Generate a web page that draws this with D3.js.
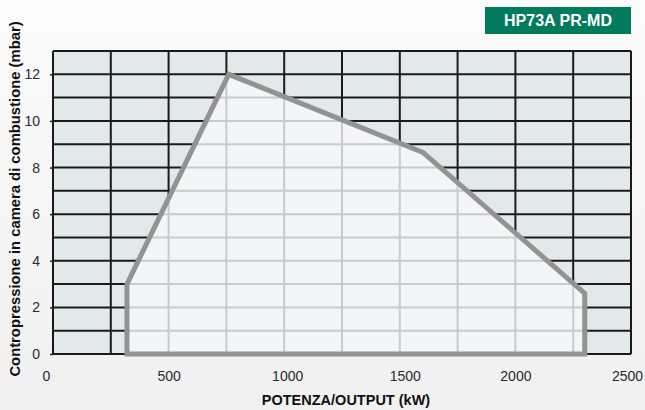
<!DOCTYPE html>
<html>
<head>
<meta charset="utf-8">
<script src="https://cdn.jsdelivr.net/npm/d3@7"></script>
<style>
  body { margin: 0; background: #fff; }
  svg { display: block; font-family: "Liberation Sans", Arial, sans-serif; }
</style>
</head>
<body>
<script>
// Working field of the burner (output kW vs back pressure mbar)
var fieldKw = [320, 320, 760, 1600, 2300, 2300];
var fieldMbar = [0, 3, 12, 8.65, 2.6, 0];

var xTicks = [0, 500, 1000, 1500, 2000, 2500];
var yTicks = [0, 2, 4, 6, 8, 10, 12];
var xGrid = d3.range(0, 2501, 250);
var yGrid = d3.range(0, 14, 1);

var margin = {top: 51, right: 14, bottom: 56, left: 53};
var W = 645, H = 410;
var width = W - margin.left - margin.right;
var height = H - margin.top - margin.bottom;

var svg = d3.select("body").append("svg")
    .attr("width", W)
    .attr("height", H);

// soft grey page background
var bg = svg.append("defs").append("linearGradient")
    .attr("id", "bg").attr("x1", 0).attr("y1", 0).attr("x2", 0).attr("y2", 1);
bg.append("stop").attr("offset", "0").attr("stop-color", "#fbfbfb");
bg.append("stop").attr("offset", "1").attr("stop-color", "#f0f0f0");
svg.append("rect").attr("width", W).attr("height", H).attr("fill", "url(#bg)");

var x = d3.scaleLinear().domain([0, 2500]).range([0, width]);
var y = d3.scaleLinear().domain([0, 13]).range([height, 0]);

var g = svg.append("g")
    .attr("transform", "translate(" + margin.left + "," + margin.top + ")");

// plot area
g.append("rect")
    .attr("width", width).attr("height", height)
    .attr("fill", "#e3e8ea");

// dark grid outside the field
g.selectAll(".vgrid").data(xGrid).enter().append("line")
    .attr("x1", function(d) { return x(d); })
    .attr("x2", function(d) { return x(d); })
    .attr("y1", 0).attr("y2", height)
    .attr("stroke", "#1a1a1a").attr("stroke-width", 2);
g.selectAll(".hgrid").data(yGrid).enter().append("line")
    .attr("y1", function(d) { return y(d); })
    .attr("y2", function(d) { return y(d); })
    .attr("x1", 0).attr("x2", width)
    .attr("stroke", "#1a1a1a").attr("stroke-width", 2);

var pts = fieldKw.map(function(k, i) { return [x(k), y(fieldMbar[i])]; });
var line = d3.line();

g.append("clipPath").attr("id", "field")
    .append("path").attr("d", line(pts) + "Z");

var inner = g.append("g").attr("clip-path", "url(#field)");
inner.append("rect")
    .attr("width", width).attr("height", height)
    .attr("fill", "#f3f5f7");
inner.selectAll(".vg").data(xGrid).enter().append("line")
    .attr("x1", function(d) { return x(d); })
    .attr("x2", function(d) { return x(d); })
    .attr("y1", 0).attr("y2", height)
    .attr("stroke", "#c4cccf").attr("stroke-width", 2);
inner.selectAll(".hg").data(yGrid).enter().append("line")
    .attr("y1", function(d) { return y(d); })
    .attr("y2", function(d) { return y(d); })
    .attr("x1", 0).attr("x2", width)
    .attr("stroke", "#c4cccf").attr("stroke-width", 2);

// field outline
g.append("path")
    .attr("d", line(pts) + "Z")
    .attr("fill", "none")
    .attr("stroke", "#939393")
    .attr("stroke-width", 5)
    .attr("stroke-linejoin", "miter");

// axes
var xAxis = g.append("g")
    .attr("transform", "translate(0," + height + ")")
    .call(d3.axisBottom(x).tickValues(xTicks).tickFormat(d3.format("d"))
        .tickSize(0).tickPadding(17));
var yAxis = g.append("g")
    .call(d3.axisLeft(y).tickValues(yTicks).tickSize(3).tickPadding(10));
[xAxis, yAxis].forEach(function(a) {
    a.select(".domain").remove();
    a.selectAll("text").attr("font-size", 14).attr("fill", "#2a2a2a")
        .attr("font-family", "'Liberation Sans', Arial, sans-serif");
    a.selectAll(".tick line").attr("stroke", "#222").attr("stroke-width", 1.5);
});
// nudge the end labels like the original layout
xAxis.selectAll(".tick text").attr("dx", function(d) {
    return d === 0 ? -7 : d === 2500 ? -4 : d === 1500 ? 5 : d === 1000 ? 3 : 0;
});

// axis titles
svg.append("text")
    .attr("x", 346).attr("y", 405)
    .attr("text-anchor", "middle")
    .attr("font-size", 14.5).attr("font-weight", "bold").attr("fill", "#111")
    .text("POTENZA/OUTPUT (kW)");
svg.append("text")
    .attr("transform", "translate(20,199) rotate(-90)")
    .attr("text-anchor", "middle")
    .attr("font-size", 14.8).attr("font-weight", "bold").attr("fill", "#111")
    .text("Contropressione in camera di combustione (mbar)");

// model badge
svg.append("rect")
    .attr("x", 485).attr("y", 7).attr("width", 146).attr("height", 27)
    .attr("fill", "#007b5b");
svg.append("text")
    .attr("x", 558).attr("y", 26)
    .attr("text-anchor", "middle")
    .attr("font-size", 16).attr("font-weight", "bold").attr("fill", "#fff")
    .text("HP73A PR-MD");
</script>
</body>
</html>
